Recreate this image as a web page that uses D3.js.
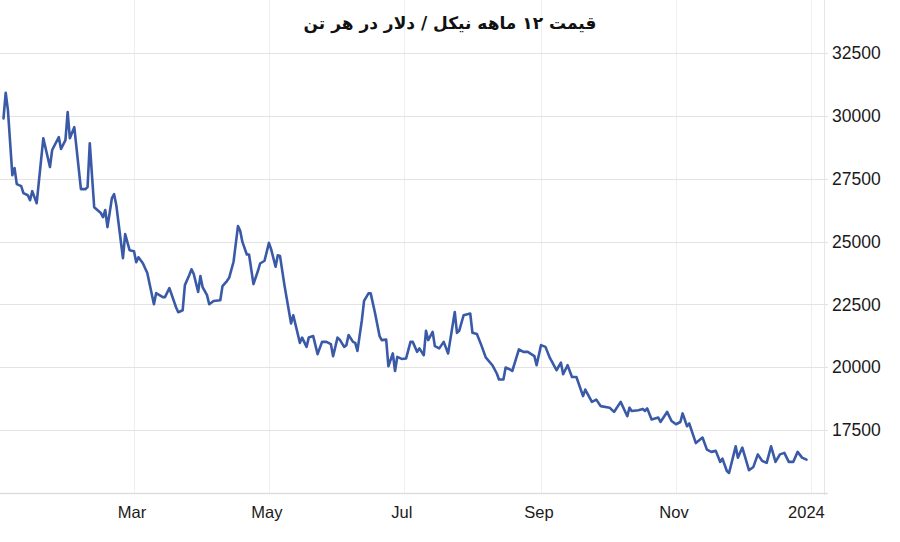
<!DOCTYPE html>
<html>
<head>
<meta charset="utf-8">
<script src="https://cdn.jsdelivr.net/npm/d3@7"></script>
<style>
  html, body { margin: 0; padding: 0; background: #fff; }
  svg { display: block; }
</style>
</head>
<body>
<svg id="chart" width="900" height="542"></svg>
<script>
// ---- Data ----
const chartTitle = "قیمت ۱۲ ماهه نیکل / دلار در هر تن";
// day offsets from 1 Jan 2023
const dayOffsets = [0,1,2,4,5,6,8,9,11,12,13,15,18,21,22,25,26,28,29,30,32,35,37,38,39,41,44,45,46,47,49,50,51,54,55,57,59,60,61,63,65,68,69,72,73,75,78,79,81,82,84,85,86,88,89,90,92,93,95,98,99,101,102,104,106,107,108,110,111,113,115,116,118,120,121,123,124,125,127,130,131,134,135,137,138,140,142,144,146,148,149,151,152,154,155,156,158,159,160,162,163,165,166,168,170,171,173,174,176,177,178,180,182,184,185,187,188,190,191,192,194,195,197,199,201,204,205,206,208,211,212,214,216,218,221,223,224,226,227,229,230,233,235,237,240,241,243,245,247,248,250,252,253,255,257,259,262,263,266,268,270,274,276,279,282,283,284,287,289,290,291,293,296,297,300,302,304,306,307,309,310,313,316,318,320,322,324,325,327,328,331,332,334,337,339,341,343,345,347,349,351,353,355,357,359,361,363];
const prices = [29910,30930,30240,27650,27930,27290,27210,26930,26850,26650,27010,26530,29120,27970,28650,29160,28690,29040,30160,29120,29560,27090,27090,27170,28920,26370,26140,25980,26260,25580,26730,26890,26450,24340,25300,24660,24620,24180,24380,24140,23750,22510,22950,22790,22790,23150,22390,22190,22270,23270,23670,23900,23710,23000,23630,23190,22870,22510,22640,22670,23230,23430,23560,24200,25620,25430,24990,24490,24490,23310,23830,24130,24240,24950,24690,24000,24460,24430,23270,21740,22070,20970,21180,20810,21180,21240,20520,21010,21010,20920,20440,21180,21100,20810,20880,21280,21010,20970,20650,21870,22640,22940,22940,22140,21240,21080,21100,20040,20550,19850,20410,20330,20350,21010,21010,20610,20750,20480,21450,21080,21410,20840,20750,21010,20550,22200,21370,21450,22070,22140,21370,21320,20880,20390,20080,19750,19510,19510,19990,19910,19850,20710,20610,20610,20440,20080,20880,20810,20370,20210,19880,20180,19720,20080,19610,19610,18850,19110,18620,18710,18450,18390,18220,18620,18050,18390,18260,18290,18340,18260,18360,17920,18000,17820,18220,17860,17730,17820,18160,17650,17760,16980,17200,16720,16630,16670,16230,16360,15870,15790,16850,16400,16800,15900,16030,16530,16270,16190,16850,16230,16530,16590,16230,16230,16630,16400,16320];
const yTicks = [17500, 20000, 22500, 25000, 27500, 30000, 32500];
const xTickDates = ["2023-03-01","2023-05-01","2023-07-01","2023-09-01","2023-11-01","2024-01-01"];
const xTickLabels = ["Mar","May","Jul","Sep","Nov","2024"];

// ---- Build ----
const start = new Date(2023, 0, 1);
const data = dayOffsets.map((d, i) => ({ date: d3.timeDay.offset(start, d), value: prices[i] }));
const parse = d3.timeParse("%Y-%m-%d");
const tickDates = xTickDates.map(parse);

const svg = d3.select("#chart");
const plotLeft = 0, plotRight = 824, plotTop = 0, plotBottom = 493;

const x = d3.scaleTime()
  .domain([new Date(2023, 0, 1), new Date(2024, 0, 1)])
  .range([3.5, 810.9]);
const y = d3.scaleLinear()
  .domain([15000, 32500])
  .range([492.8, 53.3]);

// vertical gridlines
svg.append("g")
  .selectAll("line")
  .data(tickDates)
  .join("line")
  .attr("x1", d => Math.round(x(d)) + 0.5)
  .attr("x2", d => Math.round(x(d)) + 0.5)
  .attr("y1", plotTop)
  .attr("y2", plotBottom)
  .attr("stroke", "#efefef")
  .attr("stroke-width", 1);

// horizontal gridlines
svg.append("g")
  .selectAll("line")
  .data(yTicks)
  .join("line")
  .attr("x1", plotLeft)
  .attr("x2", plotRight + 4)
  .attr("y1", d => Math.round(y(d)) + 0.5)
  .attr("y2", d => Math.round(y(d)) + 0.5)
  .attr("stroke", "#e3e3e3")
  .attr("stroke-width", 1);

// right axis line
svg.append("line")
  .attr("x1", plotRight + 0.5).attr("x2", plotRight + 0.5)
  .attr("y1", plotTop).attr("y2", plotBottom + 2)
  .attr("stroke", "#e6e6e6");

// bottom axis line
svg.append("line")
  .attr("x1", plotLeft).attr("x2", plotRight + 4)
  .attr("y1", plotBottom + 0.5).attr("y2", plotBottom + 0.5)
  .attr("stroke", "#dedede").attr("stroke-width", 1.5);

// y axis labels (right side)
const yAxis = d3.axisRight(y).tickValues(yTicks).tickSize(0).tickPadding(0).tickFormat(d3.format("d"));
const gy = svg.append("g").attr("transform", `translate(832,0)`).call(yAxis);
gy.select(".domain").remove();
gy.selectAll("text")
  .attr("font-family", "'Liberation Sans', Arial, sans-serif")
  .attr("font-size", 17.5)
  .attr("fill", "#1a1a1a");

// x axis labels
const xAxis = d3.axisBottom(x).tickValues(tickDates).tickSize(0).tickPadding(0)
  .tickFormat((d, i) => xTickLabels[i]);
const gx = svg.append("g").attr("transform", `translate(0,506)`).call(xAxis);
gx.select(".domain").remove();
gx.selectAll("text")
  .attr("font-family", "'Liberation Sans', Arial, sans-serif")
  .attr("font-size", 16.5)
  .attr("fill", "#1a1a1a")
  .attr("dx", (d, i) => i === xTickLabels.length - 1 ? -5 : -2.5);

// line
const line = d3.line().x(d => x(d.date)).y(d => y(d.value)).curve(d3.curveLinear);
svg.append("path")
  .datum(data)
  .attr("fill", "none")
  .attr("stroke", "#3a5aa8")
  .attr("stroke-width", 2.6)
  .attr("stroke-linejoin", "round")
  .attr("stroke-linecap", "round")
  .attr("d", line);

// title
svg.append("text")
  .attr("x", 450)
  .attr("y", 29)
  .attr("text-anchor", "middle")
  .attr("direction", "rtl")
  .attr("font-family", "'DejaVu Sans', 'Noto Sans', sans-serif")
  .attr("font-weight", "bold")
  .attr("font-size", 17)
  .attr("fill", "#111")
  .text(chartTitle);
</script>
</body>
</html>
